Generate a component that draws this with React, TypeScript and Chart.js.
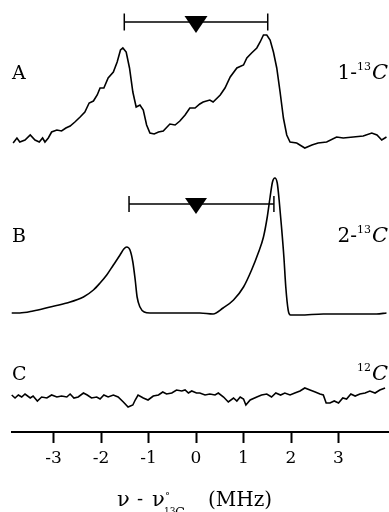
import React, { useEffect, useRef } from 'react';
import { Chart, registerables } from 'chart.js';

Chart.register(...registerables);

// ---- Data (frequency offset in MHz, intensity in arbitrary units) ----
const specAFreq = [-3.85, -3.77, -3.71, -3.60, -3.49, -3.39, -3.30, -3.23, -3.18, -3.11,
  -3.04, -2.93, -2.83, -2.74, -2.65, -2.55, -2.44, -2.34, -2.25, -2.16,
  -2.08, -2.02, -1.94, -1.85, -1.74, -1.66, -1.59, -1.54, -1.47, -1.40,
  -1.33, -1.26, -1.18, -1.11, -1.04, -0.97, -0.88, -0.79, -0.69, -0.55,
  -0.44, -0.34, -0.23, -0.13, -0.02, 0.08, 0.15, 0.29, 0.36, 0.51,
  0.61, 0.72, 0.86, 1.00, 1.07, 1.17, 1.28, 1.35, 1.42, 1.49,
  1.56, 1.63, 1.70, 1.77, 1.84, 1.91, 1.98, 2.12, 2.29, 2.44,
  2.57, 2.75, 2.96, 3.10, 3.31, 3.52, 3.70, 3.81, 3.91, 4.01];
const specAInt = [2, 7, 3, 5, 10, 5, 3, 7, 3, 7,
  13, 15, 14, 17, 19, 23, 28, 33, 42, 44,
  50, 57, 57, 67, 73, 83, 95, 97, 93, 77,
  53, 38, 40, 35, 20, 12, 11, 13, 14, 21,
  20, 24, 30, 37, 37, 41, 43, 45, 43, 50,
  57, 68, 77, 80, 87, 92, 97, 103, 110, 110,
  105, 93, 77, 53, 27, 10, 3, 2, -3, 0,
  2, 3, 8, 7, 8, 9, 12, 10, 5, 8];

const specBFreq = [-3.88, -3.71, -3.43, -3.07, -2.72, -2.37, -2.16, -2.02, -1.88, -1.74,
  -1.60, -1.52, -1.46, -1.39, -1.33, -1.28, -1.24, -1.18, -1.09, -0.97,
  -0.62, -0.27, 0.08, 0.36, 0.57, 0.79, 1.00, 1.17, 1.31, 1.42,
  1.50, 1.56, 1.61, 1.66, 1.71, 1.75, 1.80, 1.85, 1.89, 1.94,
  1.99, 2.19, 2.68, 3.24, 3.80, 4.01];
const specBInt = [1, 1, 3, 7, 11, 17, 24, 31, 39, 49,
  59, 65, 67, 64, 52, 34, 17, 7, 2, 1,
  1, 1, 1, 0, 6, 14, 27, 44, 61, 77,
  97, 117, 132, 136, 131, 114, 87, 57, 27, 4,
  -1, -1, 0, 0, 0, 1];

const specCFreq = [-3.88, -3.81, -3.74, -3.67, -3.60, -3.49, -3.43, -3.34, -3.25, -3.14,
  -3.04, -2.93, -2.83, -2.72, -2.65, -2.57, -2.48, -2.37, -2.29, -2.20,
  -2.09, -2.02, -1.94, -1.85, -1.74, -1.64, -1.53, -1.43, -1.33, -1.28,
  -1.22, -1.11, -1.01, -0.90, -0.79, -0.70, -0.62, -0.51, -0.41, -0.30,
  -0.23, -0.16, -0.09, 0.01, 0.08, 0.19, 0.29, 0.40, 0.47, 0.58,
  0.68, 0.79, 0.86, 0.93, 1.00, 1.05, 1.14, 1.28, 1.38, 1.49,
  1.59, 1.68, 1.78, 1.87, 1.98, 2.08, 2.19, 2.29, 2.40, 2.51,
  2.61, 2.68, 2.74, 2.82, 2.91, 3.00, 3.09, 3.17, 3.26, 3.35,
  3.45, 3.56, 3.66, 3.77, 3.87, 3.98];
const specCInt = [2, -1, 2, 0, 3, -1, 1, -4, 0, -1,
  2, 0, 1, 0, 3, -1, 0, 4, 2, -1,
  0, -2, 2, 0, 2, 0, -5, -10, -8, -3,
  2, -1, -3, 1, 2, 5, 3, 4, 7, 6,
  7, 4, 6, 4, 4, 2, 3, 2, 4, 0,
  -5, -1, -4, 0, -2, -8, -3, 0, 2, 3,
  0, 4, 2, 4, 2, 4, 6, 9, 7, 5,
  3, 2, -6, -6, -4, -6, -1, -2, 3, 1,
  3, 4, 6, 4, 7, 9];

const tickValues = [-3, -2, -1, 0, 1, 2, 3];
const panelLabels = ['A', 'B', 'C'];
const isotopePrefix = ['1-', '2-', ''];
const isotopeMass = ['13', '13', '12'];
const isotopeElement = ['C', 'C', 'C'];

// splitting bars (MHz) and centre markers
const barRangeA = [-1.51, 1.51];
const barRangeB = [-1.41, 1.64];
const markerA = 0;
const markerB = 0;

const X_MIN = -3.874;
const X_MAX = 4.063;

const SERIF = '"DejaVu Serif", "Liberation Serif", serif';

export default function App() {
  const ref = useRef<HTMLCanvasElement | null>(null);

  useEffect(() => {
    if (!ref.current) return;
    // vertical offsets for the stacked traces (chart units == px above axis)
    const offA = 287;
    const offB = 118;
    const offC = 35;
    const mk = (f: number[], v: number[], off: number) => f.map((x, i) => ({ x, y: off + v[i] }));

    const overlay = {
      id: 'overlay',
      afterDraw(chart: any) {
        const ctx = chart.ctx as CanvasRenderingContext2D;
        const xs = chart.scales.x;
        const ys = chart.scales.y;
        ctx.save();
        ctx.strokeStyle = '#000';
        ctx.fillStyle = '#000';

        const drawBar = (range: number[], marker: number, level: number, capH: number, triW: number, triUp: number, triDown: number) => {
          const x1 = xs.getPixelForValue(range[0]);
          const x2 = xs.getPixelForValue(range[1]);
          const y = ys.getPixelForValue(level);
          ctx.lineWidth = 1.5;
          ctx.beginPath();
          ctx.moveTo(x1, y); ctx.lineTo(x2, y);
          ctx.moveTo(x1, y - capH); ctx.lineTo(x1, y + capH);
          ctx.moveTo(x2, y - capH); ctx.lineTo(x2, y + capH);
          ctx.stroke();
          const xm = xs.getPixelForValue(marker);
          ctx.beginPath();
          ctx.moveTo(xm - triW / 2, y - triUp);
          ctx.lineTo(xm + triW / 2, y - triUp);
          ctx.lineTo(xm, y + triDown);
          ctx.closePath();
          ctx.fill();
        };
        drawBar(barRangeA, markerA, 410, 8.5, 23, 6, 11);
        drawBar(barRangeB, markerB, 228, 8, 22, 6, 10);

        // panel letters
        const rows = [79, 242, 380];
        ctx.textBaseline = 'alphabetic';
        ctx.textAlign = 'left';
        ctx.font = `19px ${SERIF}`;
        panelLabels.forEach((t, i) => ctx.fillText(t, 12, rows[i]));

        // isotope labels, right aligned
        rows.forEach((yb, i) => {
          const fPre = `20px ${SERIF}`;
          const fSup = `11px ${SERIF}`;
          const fEl = `italic 21px ${SERIF}`;
          ctx.font = fPre; const wPre = ctx.measureText(isotopePrefix[i]).width;
          ctx.font = fSup; const wSup = ctx.measureText(isotopeMass[i]).width;
          ctx.font = fEl; const wEl = ctx.measureText(isotopeElement[i]).width;
          let x = 388 - (wPre + wSup + 1 + wEl);
          ctx.font = fPre; ctx.fillText(isotopePrefix[i], x, yb); x += wPre;
          ctx.font = fSup; ctx.fillText(isotopeMass[i], x, yb - 9); x += wSup + 1;
          ctx.font = fEl; ctx.fillText(isotopeElement[i], x, yb);
        });

        // axis title: ν - ν°(13C) (MHz)
        const tb = 506;
        ctx.font = `21px ${SERIF}`;
        ctx.fillText('\u03bd', 117, tb);
        ctx.font = `18px ${SERIF}`;
        ctx.fillText('-', 137, tb - 1);
        ctx.font = `21px ${SERIF}`;
        ctx.fillText('\u03bd', 152, tb);
        ctx.font = `10px ${SERIF}`;
        ctx.fillText('\u00b0', 165, tb - 7);
        ctx.font = `9px ${SERIF}`;
        ctx.fillText('13', 164, tb + 8);
        ctx.font = `13px ${SERIF}`;
        ctx.fillText('C', 175, tb + 11);
        ctx.font = `20px ${SERIF}`;
        ctx.fillText('(MHz)', 208, tb);
        ctx.restore();
      },
    };

    const common = {
      borderColor: '#000',
      borderWidth: 1.6,
      pointRadius: 0,
      fill: false,
      clip: false as any,
    };

    const chart = new Chart(ref.current, {
      type: 'line',
      data: {
        datasets: [
          { ...common, label: 'A', data: mk(specAFreq, specAInt, offA), tension: 0 },
          { ...common, label: 'B', data: mk(specBFreq, specBInt, offB), cubicInterpolationMode: 'monotone' },
          { ...common, label: 'C', data: mk(specCFreq, specCInt, offC), tension: 0 },
        ],
      },
      options: {
        animation: false,
        responsive: false,
        maintainAspectRatio: false,
        layout: { padding: { left: 12, right: 0, top: 0, bottom: 0 } },
        plugins: { legend: { display: false }, tooltip: { enabled: false }, title: { display: false } },
        scales: {
          x: {
            type: 'linear',
            min: X_MIN,
            max: X_MAX,
            afterBuildTicks: (s: any) => { s.ticks = tickValues.map((v) => ({ value: v })); },
            afterFit: (s: any) => { s.height = 80; },
            border: { display: true, color: '#000', width: 2 },
            grid: { drawOnChartArea: false, drawTicks: true, tickLength: 11, tickWidth: 2, tickColor: '#000' },
            ticks: {
              color: '#000',
              padding: 5,
              maxRotation: 0,
              autoSkip: false,
              font: { family: SERIF, size: 17 },
              callback: (v: any) => String(v),
            },
          },
          y: { type: 'linear', display: false, min: 0, max: 432 },
        },
      },
      plugins: [overlay],
    } as any);

    return () => chart.destroy();
  }, []);

  return (
    <div style={{ position: 'absolute', left: 0, top: 0, width: 389, height: 512, background: '#fff' }}>
      <canvas ref={ref} width={389} height={512} style={{ display: 'block' }} />
    </div>
  );
}
